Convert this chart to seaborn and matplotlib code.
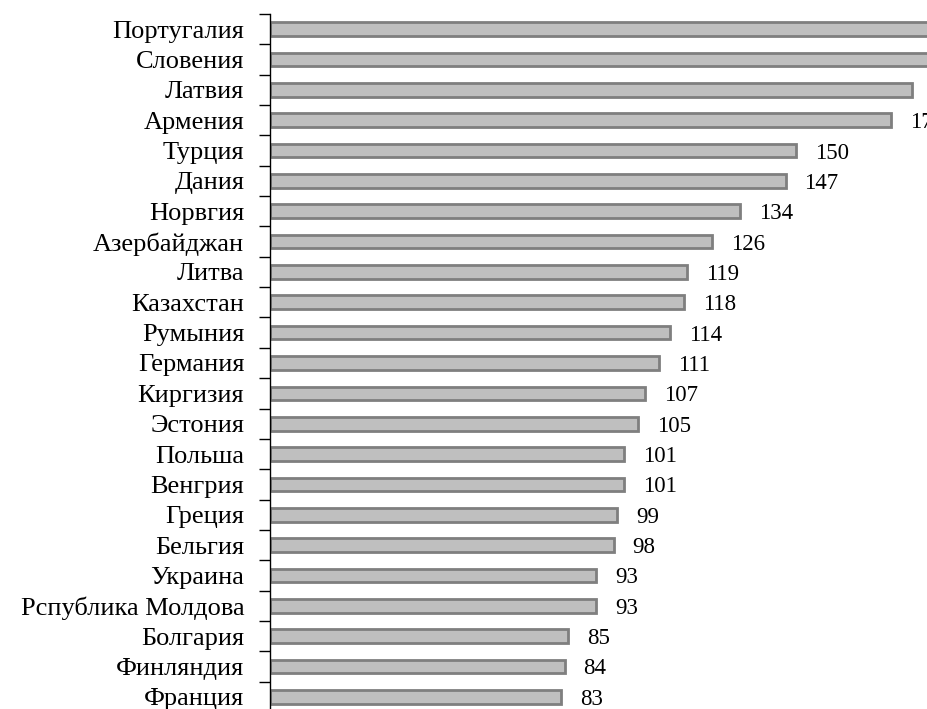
import matplotlib
matplotlib.use("Agg")
import matplotlib.pyplot as plt
import numpy as np
import pandas as pd
import seaborn as sns
from matplotlib.ticker import FixedLocator, NullFormatter

countries = [
    "Португалия", "Словения", "Латвия", "Армения", "Турция", "Дания",
    "Норвгия", "Азербайджан", "Литва", "Казахстан", "Румыния", "Германия",
    "Киргизия", "Эстония", "Польша", "Венгрия", "Греция", "Бельгия",
    "Украина", "Рспублика Молдова", "Болгария", "Финляндия", "Франция",
]
values = [205, 196, 183, 177, 150, 147, 134, 126, 119, 118, 114, 111,
          107, 105, 101, 101, 99, 98, 93, 93, 85, 84, 83]

df = pd.DataFrame({"country": countries, "value": values})

sns.set_theme(style="white")
plt.rcParams["font.family"] = ["Liberation Serif", "DejaVu Serif"]

fig = plt.figure(figsize=(9.27, 7.09), dpi=100)
ax = fig.add_axes([270 / 927, -3 / 709, 1 - 270 / 927, 698 / 709])

sns.barplot(data=df, x="value", y="country", orient="h", ax=ax,
            color="#bfbfbf", edgecolor="#7f7f7f", linewidth=2.0,
            width=0.45, saturation=1)

x_max = 187.3
ax.set_xlim(0, x_max)
ax.set_ylim(len(countries) - 0.5, -0.5)
ax.set_xlabel("")
ax.set_ylabel("")

# value labels to the right of each bar (only where they start inside the plot)
for i, v in enumerate(values):
    if v + 5 < x_max:
        ax.annotate(f"{v}", (v, i), xytext=(13.5, 0), textcoords="offset points",
                    va="center_baseline", ha="left", fontsize=16.5,
                    color="black", annotation_clip=False)

for s in ["top", "right", "bottom"]:
    ax.spines[s].set_visible(False)
ax.spines["left"].set_color("black")
ax.spines["left"].set_linewidth(1.0)

ax.set_xticks([])
ax.yaxis.set_minor_locator(FixedLocator(np.arange(-0.5, len(countries), 1.0)))
ax.yaxis.set_minor_formatter(NullFormatter())
ax.tick_params(axis="y", which="major", length=0, pad=18.5, labelsize=19,
               labelcolor="black")
ax.tick_params(axis="y", which="minor", length=8, width=1, color="black",
               left=True, direction="out")

fig.savefig("out.png", dpi=100)
